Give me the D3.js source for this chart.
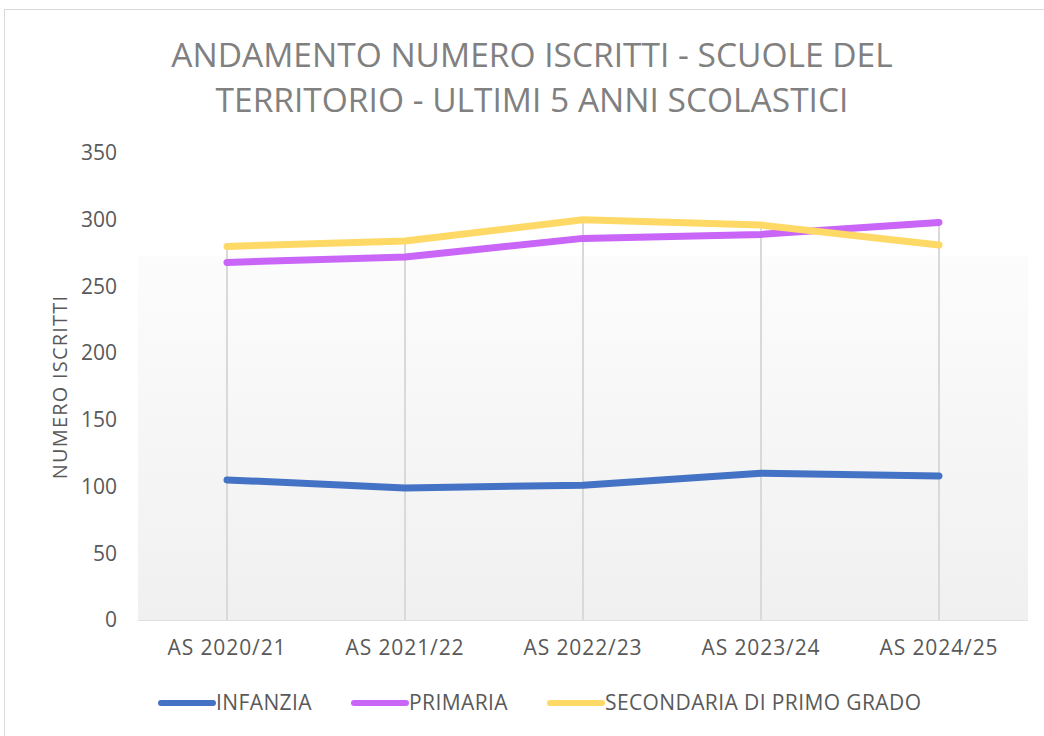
<!DOCTYPE html>
<html>
<head>
<meta charset="utf-8">
<script src="https://cdn.jsdelivr.net/npm/d3@7"></script>
<style>
  body { margin: 0; background: #fff; }
  svg text { font-family: "Open Sans", "Liberation Sans", sans-serif; }
</style>
</head>
<body>
<div id="chart"></div>
<script>
  // data
  const years = ["AS 2020/21", "AS 2021/22", "AS 2022/23", "AS 2023/24", "AS 2024/25"];
  const infanzia = [105, 99, 101, 110, 108];
  const primaria = [268, 272, 286, 289, 298];
  const secondaria = [280, 284, 300, 296, 281];
  const yTicks = [0, 50, 100, 150, 200, 250, 300, 350];
  const seriesNames = ["INFANZIA", "PRIMARIA", "SECONDARIA DI PRIMO GRADO"];

  const series = [
    { name: seriesNames[0], values: infanzia, color: "#4472c4" },
    { name: seriesNames[1], values: primaria, color: "#c965f7" },
    { name: seriesNames[2], values: secondaria, color: "#ffd966" }
  ];

  const width = 1044, height = 736;
  const margin = { top: 153, right: 16, bottom: 116, left: 138 };

  const svg = d3.select("#chart").append("svg")
      .attr("width", width)
      .attr("height", height);

  // chart border
  svg.append("rect")
      .attr("x", 4.5).attr("y", 9.5)
      .attr("width", width + 10).attr("height", height + 10)
      .attr("fill", "#fff")
      .attr("stroke", "#d9d9d9");

  const x = d3.scaleBand()
      .domain(years)
      .range([margin.left, width - margin.right]);

  const y = d3.scaleLinear()
      .domain([0, 350])
      .range([height - margin.bottom, margin.top]);

  // plot area background (subtle gradient like the original)
  const defs = svg.append("defs");
  const grad = defs.append("linearGradient")
      .attr("id", "bg").attr("x1", 0).attr("y1", 0).attr("x2", 0).attr("y2", 1);
  grad.append("stop").attr("offset", "0%").attr("stop-color", "#ffffff");
  grad.append("stop").attr("offset", "22%").attr("stop-color", "#ffffff");
  grad.append("stop").attr("offset", "22%").attr("stop-color", "#fcfcfc");
  grad.append("stop").attr("offset", "100%").attr("stop-color", "#f0f0f0");

  svg.append("rect")
      .attr("x", margin.left)
      .attr("y", margin.top)
      .attr("width", width - margin.right - margin.left)
      .attr("height", y(0) - margin.top)
      .attr("fill", "url(#bg)");

  // drop lines from highest point to the axis
  svg.append("g").selectAll("line")
      .data(years)
      .join("line")
      .attr("x1", d => x(d) + x.bandwidth() / 2)
      .attr("x2", d => x(d) + x.bandwidth() / 2)
      .attr("y1", (d, i) => y(d3.max(series, s => s.values[i])))
      .attr("y2", y(0))
      .attr("stroke", "#d9d9d9")
      .attr("stroke-width", 2);

  // horizontal axis line
  svg.append("line")
      .attr("x1", margin.left).attr("x2", width - margin.right)
      .attr("y1", y(0) + 0.5).attr("y2", y(0) + 0.5)
      .attr("stroke", "#e0e0e0")
      .attr("stroke-width", 1);

  // y axis labels
  const yAxis = svg.append("g")
      .attr("transform", `translate(${margin.left - 21},0)`)
      .call(d3.axisLeft(y).tickValues(yTicks).tickSize(0).tickPadding(0));
  yAxis.select(".domain").remove();
  yAxis.selectAll("text")
      .attr("font-size", 21)
      .attr("fill", "#595959");

  // x axis labels
  const xAxis = svg.append("g")
      .attr("transform", `translate(0,${y(0)})`)
      .call(d3.axisBottom(x).tickSize(0).tickPadding(20));
  xAxis.select(".domain").remove();
  xAxis.selectAll("text")
      .attr("font-size", 21)
      .attr("letter-spacing", 0.9)
      .attr("fill", "#595959");

  // lines
  const line = d3.line()
      .x((d, i) => x(years[i]) + x.bandwidth() / 2)
      .y(d => y(d));

  svg.append("g").selectAll("path")
      .data(series)
      .join("path")
      .attr("d", d => line(d.values))
      .attr("fill", "none")
      .attr("stroke", d => d.color)
      .attr("stroke-width", 7)
      .attr("stroke-linecap", "round")
      .attr("stroke-linejoin", "round");

  // title
  const title = svg.append("text")
      .attr("x", 532)
      .attr("text-anchor", "middle")
      .attr("font-size", 33.5)
      .attr("fill", "#808080");
  title.append("tspan").attr("x", 532).attr("y", 67).text("ANDAMENTO NUMERO ISCRITTI - SCUOLE DEL");
  title.append("tspan").attr("x", 532).attr("y", 112).text("TERRITORIO - ULTIMI 5 ANNI SCOLASTICI");

  // y axis title
  svg.append("text")
      .attr("transform", "translate(67,387) rotate(-90)")
      .attr("text-anchor", "middle")
      .attr("font-size", 20)
      .attr("letter-spacing", 1.2)
      .attr("fill", "#595959")
      .text("NUMERO ISCRITTI");

  // legend
  const legendX = [161, 354, 550];
  const legend = svg.append("g").selectAll("g")
      .data(series)
      .join("g")
      .attr("transform", (d, i) => `translate(${legendX[i]},703)`);
  legend.append("line")
      .attr("x1", 0).attr("x2", 52)
      .attr("stroke", d => d.color)
      .attr("stroke-width", 6)
      .attr("stroke-linecap", "round");
  legend.append("text")
      .attr("x", 55)
      .attr("dy", "0.35em")
      .attr("font-size", 21)
      .attr("letter-spacing", 0.4)
      .attr("fill", "#595959")
      .text(d => d.name);
</script>
</body>
</html>
